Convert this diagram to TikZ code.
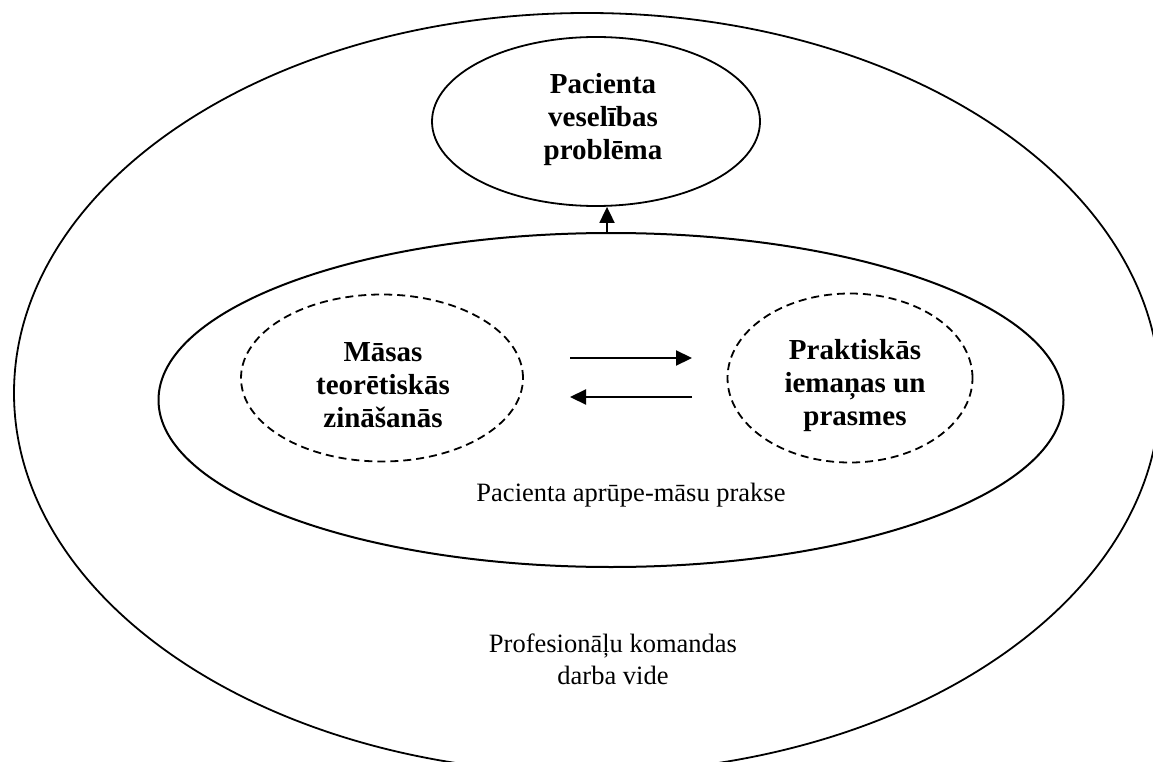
\documentclass[tikz,border=0pt]{standalone}
\usepackage{fontspec}
\setmainfont{Liberation Serif}
\usetikzlibrary{shapes.geometric,arrows.meta}
\begin{document}
\begin{tikzpicture}[x=1pt,y=-1pt,
  ring/.style={draw, ellipse, inner sep=0pt, line width=1.8pt},
  dashring/.style={draw, ellipse, inner sep=0pt, line width=1.8pt, dash pattern=on 8pt off 5pt},
  boldlbl/.style={align=center, inner sep=0pt, font=\fontsize{29}{33}\selectfont\bfseries},
  plainlbl/.style={align=center, inner sep=0pt, font=\fontsize{26.5}{32}\selectfont},
  arr/.style={line width=2.2pt, -{Triangle[length=16pt,width=15pt]}},
  uparr/.style={line width=1.8pt, -{Triangle[length=16pt,width=15pt]}}]
\useasboundingbox (0,0) rectangle (1153,762);
\clip (0,0) rectangle (1153,762);
% ellipses
\node[ring, minimum width=1146pt, minimum height=760pt] (outer) at (587,393) {};
\node[ring, line width=2pt, minimum width=905pt, minimum height=334pt] (mid) at (611,400) {};
\node[ring, minimum width=328pt, minimum height=169pt] (top) at (596,121.5) {};
\node[dashring, minimum width=282pt, minimum height=167pt] (left) at (382,378) {};
\node[dashring, minimum width=245pt, minimum height=169pt] (right) at (850,378) {};
% texts
\node[boldlbl] (toptext) at (603,120) {Pacienta\\veselības\\problēma};
\node[boldlbl] (lefttext) at (383,385) {Māsas\\teorētiskās\\zināšanās};
\node[boldlbl] (righttext) at (855,386) {Praktiskās\\iemaņas un\\prasmes};
\node[plainlbl] (midtext) at (631,495) {Pacienta aprūpe-māsu prakse};
\node[plainlbl] (outertext) at (613,659) {Profesionāļu komandas\\darba vide};
% connectors
\coordinate (upfoot) at (607,233);
\draw[uparr] (upfoot) -- (upfoot |- top.south);
\coordinate (r1s) at (570,358);
\coordinate (r1e) at (692,358);
\draw[arr] (r1s) -- (r1e);
\coordinate (r2s) at (692,397);
\coordinate (r2e) at (570,397);
\draw[arr] (r2s) -- (r2e);
\end{tikzpicture}
\end{document}
